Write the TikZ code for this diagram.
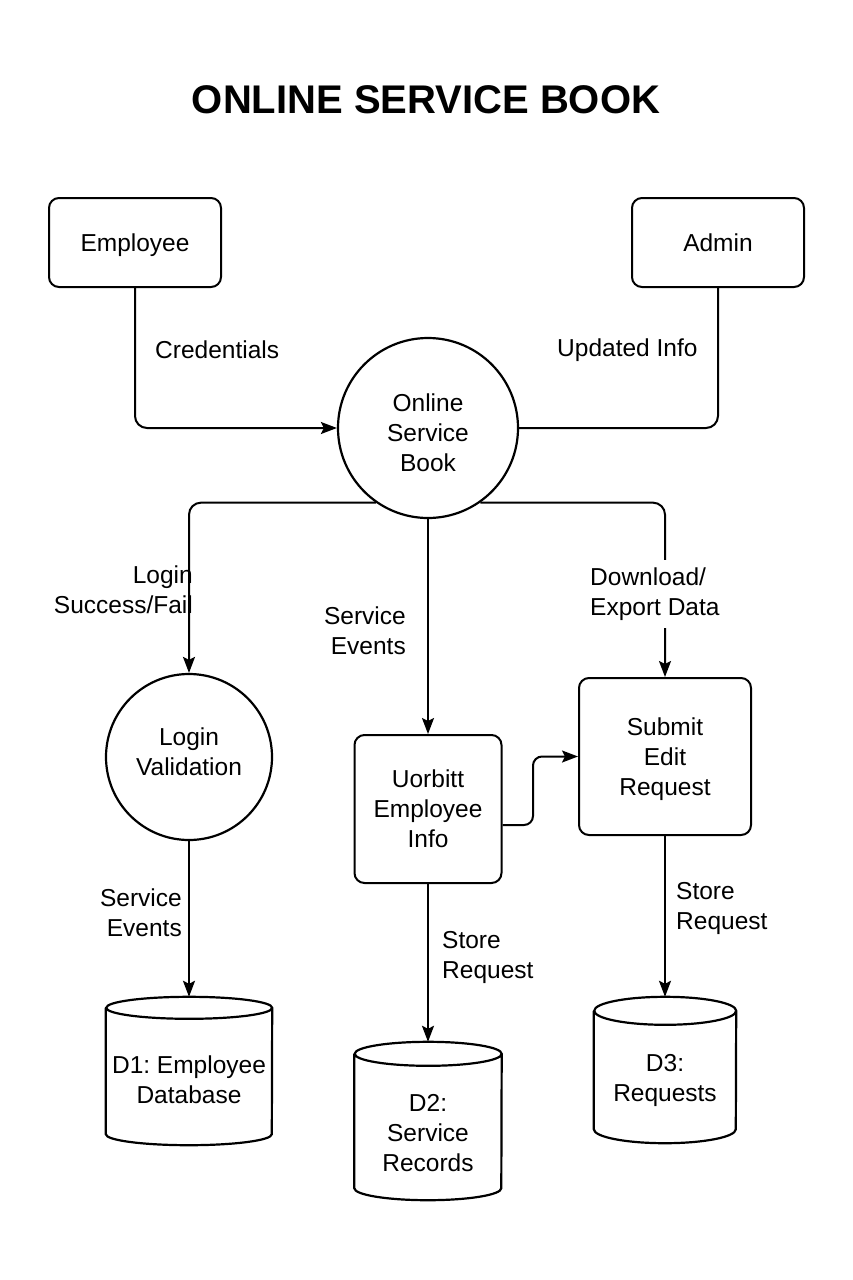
\documentclass[tikz,border=0pt]{standalone}
\usepackage{fontspec}
\setmainfont{Liberation Sans}
\usetikzlibrary{arrows.meta}
\frenchspacing
\tikzset{
  every node/.style={font=\fontsize{24.5}{30}\selectfont, inner sep=0pt},
  ln/.style={line width=2pt, draw=black},
  flow/.style={ln, -{Stealth[length=16pt,width=12pt,inset=3pt]}},
  boxnode/.style={draw, line width=2pt, rounded corners=10pt, align=center},
  procnode/.style={draw, circle, line width=2.2pt, align=center},
  storenode/.style={draw=none, align=center},
  lbl/.style={align=left}
}
\newcommand{\dstore}[3]{%
  \draw[ln, line width=2.2pt] ([yshift=-#3]#1.north west) -- ([yshift=#3]#1.south west)
    arc[start angle=180, end angle=360, x radius=#2, y radius=#3]
    -- ([yshift=-#3]#1.north east)
    arc[start angle=0, end angle=360, x radius=#2, y radius=#3];}
\begin{document}
\begin{tikzpicture}[x=1pt,y=1pt]
\useasboundingbox (0,0) rectangle (853,-1280);
\fill[white] (0,0) rectangle (853,-1280);

\node[font=\fontsize{40}{48}\selectfont\bfseries] (title) at (426,-100) {ONLINE SERVICE BOOK};

\node[boxnode, minimum width=172, minimum height=89, text height=20, text depth=3] (emp) at (135,-242.5) {Employee};
\node[boxnode, minimum width=172, minimum height=89, text height=20, text depth=3] (adm) at (718,-242.5) {Admin};
\node[procnode, minimum size=180] (osb) at (428,-428) {};
\node[align=center] (osbt) at ([yshift=-5]osb.center) {Online\\Service\\Book};
\node[procnode, minimum size=166] (lv) at (189,-757) {};
\node[align=center] (lvt) at ([yshift=5]lv.center) {Login\\Validation};
\node[boxnode, minimum width=147, minimum height=148] (uor) at (428,-809) {Uorbitt\\Employee\\Info};
\node[boxnode, minimum width=172, minimum height=157] (sub) at (665,-756.5) {};
\node[align=center] (subt) at ([yshift=-3]sub.center) {Submit\\Edit\\Request};

\node[storenode, minimum width=166, minimum height=148] (d1) at (189,-1071) {};
\node[storenode, minimum width=147, minimum height=158] (d2) at (428,-1121) {};
\node[storenode, minimum width=142, minimum height=146] (d3) at (665,-1070) {};
\dstore{d1}{83}{11}
\dstore{d2}{73.5}{12}
\dstore{d3}{71}{14}
\node[align=center] (d1t) at ([yshift=-9]d1.center) {D1: Employee\\Database};
\node[align=center] (d2t) at ([yshift=-12]d2.center) {D2:\\Service\\Records};
\node[align=center] (d3t) at ([yshift=-10]d3.center) {D3:\\Requests};

% connectors
\draw[flow, rounded corners=12pt] (emp.south) |- (osb.west);
\draw[ln, rounded corners=12pt] (adm.south) |- (osb.east);
\draw[flow, rounded corners=12pt] (osb.-125) -| (lv.north);
\draw[flow, rounded corners=12pt] (osb.-55) -| (sub.north);
\draw[flow] (osb.south) -- (uor.north);
\coordinate (kink) at (533,-825);
\draw[flow, rounded corners=9pt] ([yshift=-16]uor.east) -- (kink) |- (sub.west);
\draw[flow] (lv.south) -- (d1.north);
\draw[flow] (uor.south) -- (d2.north);
\draw[flow] (sub.south) -- (d3.north);

% labels
\node[lbl, anchor=west] (l1) at (155,-350) {Credentials};
\node[lbl, anchor=west] (l2) at (557,-350) {Updated Info};
\node[align=right, anchor=east] (l3) at (193,-590) {Login\\Success/Fail};
\node[align=right, anchor=east] (l4) at (406,-631) {Service\\Events};
\node[lbl, anchor=west, fill=white, inner xsep=2pt, inner ysep=8pt] (l5) at (588,-594) {Download/\\Export Data};
\node[align=right, anchor=east] (l6) at (182,-913) {Service\\Events};
\node[lbl, anchor=west] (l7) at (442,-957) {Store\\Request};
\node[lbl, anchor=west] (l8) at (676,-908) {Store\\Request};
\end{tikzpicture}
\end{document}
